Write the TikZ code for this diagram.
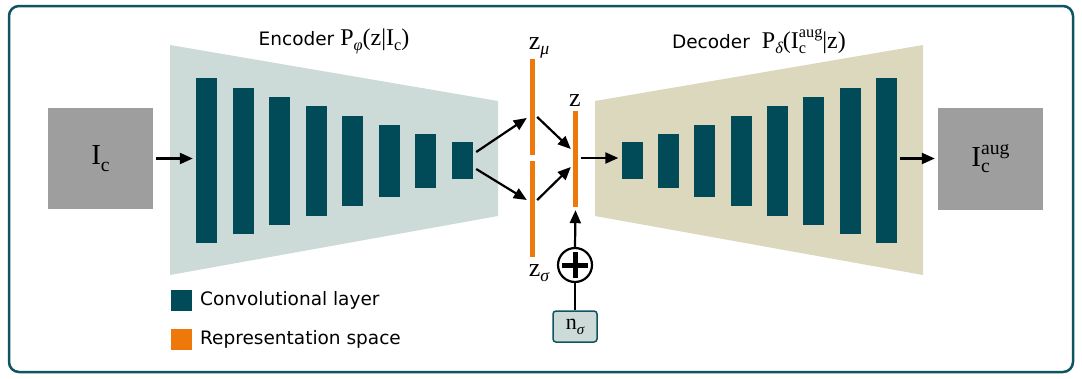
\documentclass[tikz,border=0pt]{standalone}
\usepackage{fontspec}
\setmainfont{DejaVu Sans}
\newfontfamily\ser{Liberation Serif}
\usetikzlibrary{arrows.meta,calc}
\definecolor{framec}{HTML}{0E5561}
\definecolor{convc}{HTML}{004B57}
\definecolor{encbg}{HTML}{CCDBD8}
\definecolor{decbg}{HTML}{DBD8BD}
\definecolor{orangec}{HTML}{EE780A}
\definecolor{grayc}{HTML}{9E9E9E}
\newcommand{\txtsize}{\fontsize{18.5}{22}\selectfont}
\newcommand{\lblsize}{\fontsize{24}{27}\selectfont}
\newcommand{\zsize}{\fontsize{26}{29}\selectfont}
\newcommand{\nsize}{\fontsize{22}{25}\selectfont}
\newcommand{\bigsize}{\fontsize{29}{32}\selectfont}
\newcommand{\sbs}[1]{\raisebox{-0.22em}{\scalebox{0.68}{#1}}}
\newcommand{\sps}[1]{\raisebox{0.42em}{\scalebox{0.68}{#1}}}
\newcommand{\gk}[1]{{\itshape #1}}
\begin{document}
\begin{tikzpicture}[x=1pt,y=-1pt,
  convbar/.style={fill=convc,draw=none,inner sep=0pt,minimum width=21pt},
  repbar/.style={fill=orangec,draw=none,inner sep=0pt,minimum width=5pt,minimum height=96pt},
  imgbox/.style={fill=grayc,draw=none,inner sep=0pt,minimum width=105pt,minimum height=101pt,font=\ser\bigsize},
  arr/.style={line width=2.2pt,-{Triangle[length=13pt,width=11pt]}},
  lbl/.style={anchor=base,inner sep=0pt,font=\ser\lblsize},
  zlb/.style={anchor=base,inner sep=0pt,font=\ser\zsize},
  legsq/.style={inner sep=0pt,minimum size=21pt,draw=none},
  legtxt/.style={anchor=west,inner sep=0pt,font=\txtsize}]
\useasboundingbox (0,0) rectangle (1082,378);
\draw[framec,line width=2.5pt,rounded corners=10pt] (9,6) rectangle (1073,372);
% trapezoids
\fill[encbg] (170,45) -- (498,101) -- (498,216) -- (170,275) -- cycle;
\fill[decbg] (595,101) -- (923,45) -- (923,275) -- (595,216) -- cycle;
% encoder bars
\node[convbar,minimum height=165pt] (e1) at (206.5,160.5) {};
\node[convbar,minimum height=146pt] (e2) at (243.5,160.5) {};
\node[convbar,minimum height=128pt] (e3) at (279.5,160.5) {};
\node[convbar,minimum height=110pt] (e4) at (316.5,160.5) {};
\node[convbar,minimum height=90pt] (e5) at (352.5,160.5) {};
\node[convbar,minimum height=72pt] (e6) at (389.5,160.5) {};
\node[convbar,minimum height=54pt] (e7) at (425.5,160.5) {};
\node[convbar,minimum height=37pt] (e8) at (462.5,160.5) {};
% decoder bars
\node[convbar,minimum height=37pt] (d1) at (632,160.5) {};
\node[convbar,minimum height=54pt] (d2) at (668.5,160.5) {};
\node[convbar,minimum height=72pt] (d3) at (704.5,160.5) {};
\node[convbar,minimum height=90pt] (d4) at (741.5,160.5) {};
\node[convbar,minimum height=110pt] (d5) at (777.5,160.5) {};
\node[convbar,minimum height=128pt] (d6) at (813.5,160.5) {};
\node[convbar,minimum height=146pt] (d7) at (850.5,160.5) {};
\node[convbar,minimum height=165pt] (d8) at (886.5,160.5) {};
% representation bars
\node[repbar] (zmu) at (532.5,107) {};
\node[repbar] (zsig) at (532.5,209) {};
\node[repbar] (z) at (575.5,159) {};
% image boxes
\node[imgbox] (ic) at (100.5,158.5) {I\sbs{c}};
\node[imgbox,minimum height=102pt] (oc) at (990.5,158.5) {I\rlap{\sbs{c}}\sps{aug}};
% labels
\node[lbl] (enclbl) at (334,45) {{\rmfamily\txtsize Encoder}~P\sbs{\gk{φ}}(z|I\sbs{c})};
\node[lbl] (declbl) at (759,48) {{\rmfamily\txtsize Decoder}~~P\sbs{\gk{δ}}(I\rlap{\sbs{c}}\sps{aug}|z)};
\node[zlb] (zmulbl) at (539,49) {z\sbs{\gk{μ}}};
\node[zlb] (zlbl) at (575,106) {z};
\node[zlb] (zsiglbl) at (539,276) {z\sbs{\gk{σ}}};
% noise
\node[circle,draw=black,line width=2.2pt,minimum size=34pt,inner sep=0pt] (plus) at (575,265) {};
\draw[line width=5pt] ($(plus.center)+(-13,0)$) -- ($(plus.center)+(13,0)$);
\draw[line width=5pt] ($(plus.center)+(0,-13)$) -- ($(plus.center)+(0,13)$);
\node[draw=framec,fill=encbg,line width=1.5pt,rounded corners=3pt,minimum width=44pt,minimum height=31pt,inner sep=0pt,font=\ser\nsize] (ns) at (575,326.5) {n\sbs{\gk{σ}}};
% connectors
\draw[arr] ($(ic.east)+(3,0)$) -- ($(e1.west)+(-3,-2)$);
\draw[arr] ($(e8.east)+(3,-8.5)$) -- ($(zmu.west)+(-3,11)$);
\draw[arr] ($(e8.east)+(3,8.5)$) -- ($(zsig.west)+(-3,-9)$);
\draw[arr] ($(zmu.east)+(2,10)$) -- ($(z.west)+(-2,-10)$);
\draw[arr] ($(zsig.east)+(2,-9)$) -- ($(z.west)+(-2,8)$);
\draw[arr] ($(z.east)+(3,-1)$) -- ($(d1.west)+(-3,-2.5)$);
\draw[arr] ($(d8.east)+(3,-2)$) -- ($(oc.west)+(-3,0)$);
\draw[arr] (plus.north) -- ($(z.south)+(0,3)$);
\draw[line width=2.2pt] (ns.north) -- (plus.south);
% legend
\node[legsq,fill=convc] (lg1) at (181.5,300.5) {};
\node[legtxt] (lt1) at (200,300.5) {Convolutional layer};
\node[legsq,fill=orangec] (lg2) at (181.5,339.5) {};
\node[legtxt] (lt2) at (200,339.5) {Representation space};
\end{tikzpicture}
\end{document}
